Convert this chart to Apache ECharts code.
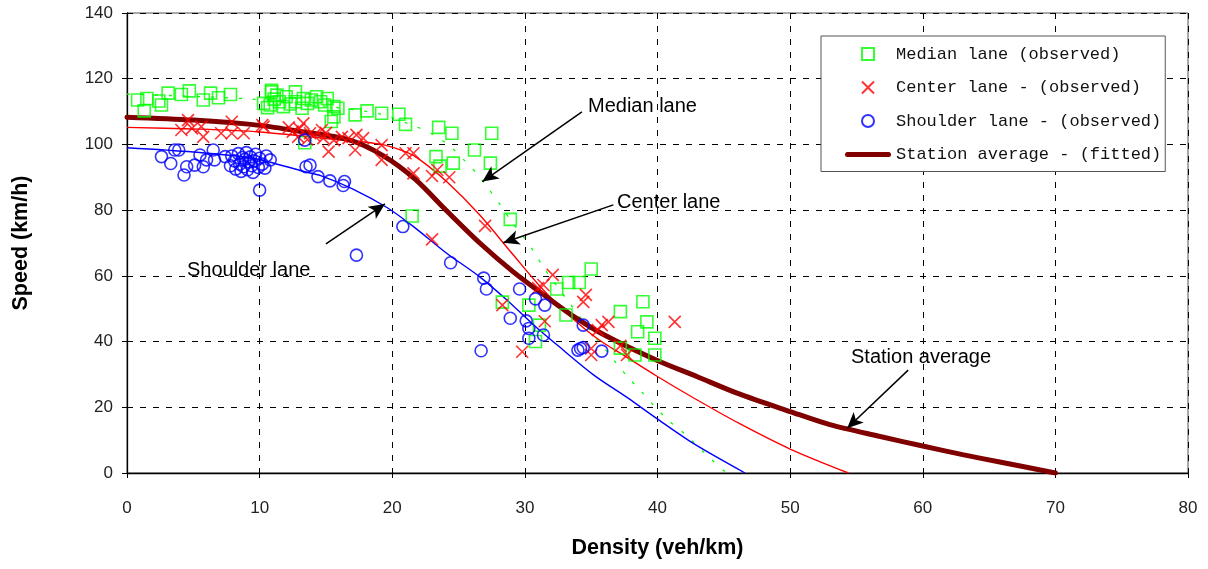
<!DOCTYPE html>
<html>
<head>
<meta charset="utf-8">
<script src="https://cdn.jsdelivr.net/npm/echarts@6/dist/echarts.min.js"></script>
<style>
  html, body { margin: 0; padding: 0; background: #ffffff; }
  #chart { width: 1208px; height: 569px; }
</style>
</head>
<body>
<div id="chart"></div>
<script>
// Observed speed (km/h) against density (veh/km), by lane
const medianObsX = [0.8, 1.3, 1.5, 2.4, 2.6, 3.1, 4.1, 4.7, 5.75, 6.3, 6.9, 7.8,
  10.3, 10.6, 10.8, 10.9, 10.9, 11.1, 11.3, 11.5, 11.8, 12.0, 12.3, 12.7, 12.7, 13.2, 13.3, 13.4, 13.6, 13.9,
  14.3, 14.6, 14.9, 15.1, 15.4, 15.6, 15.6, 15.9, 17.2, 18.1, 19.2, 20.5, 21.0,
  21.5, 23.3, 23.5, 23.6, 24.5, 24.6, 26.2, 27.4, 27.5, 28.9,
  28.3, 30.3, 30.8, 31.1, 32.4, 33.1, 33.3, 34.1, 35.0,
  37.2, 37.2, 38.3, 38.5, 38.9, 39.2, 39.8, 39.8];
const medianObsY = [113.5, 110.2, 114, 113.2, 112, 115.6, 115.2, 116.3, 113.5, 115.6, 114.2, 115.2,
  112.5, 111.2, 112, 116, 116.5, 113.8, 115, 113, 111.5, 114.5, 112.3, 116, 113, 111, 114, 100.5, 112.5, 113.5,
  114.5, 113, 112, 114, 107, 111.5, 108.4, 111, 109, 110.2, 109.5, 109.2, 106.1,
  78.2, 96.3, 105.2, 93.4, 103.4, 94.3, 98.3, 94.3, 103.4, 77.2,
  52, 51.1, 40, 45, 56, 48.1, 58, 58, 62.1,
  49.1, 38, 35.9, 43, 52.1, 46, 41, 35.9];

const centerObsX = [4.1, 4.6, 4.9, 5.6, 5.75, 7.1, 7.9, 7.9, 8.8, 10.2, 10.3,
  12.2, 12.5, 12.9, 13.0, 13.3, 13.6, 13.8, 14.1, 14.7, 14.8, 15.0, 15.2, 15.6, 16.2, 16.7, 17.2, 17.3, 17.8,
  19.2, 19.2, 21.0, 21.6, 21.6, 23.0, 23.4, 24.3, 27.0, 23.0,
  28.3, 29.8, 31.0, 31.4, 31.5, 32.1, 34.4, 34.6, 35.0, 35.0, 35.5, 35.8, 36.3, 37.2, 37.7, 41.3];
const centerObsY = [104.4, 107.4, 104.9, 105.4, 102.3, 103.4, 106.9, 103.4, 103.4, 105.9, 105.4,
  105.2, 103.9, 102.3, 104.8, 106.4, 101.5, 103.4, 102.8, 104.4, 101.9, 103.5, 97.8, 101.3, 102.3, 101.9, 98.3, 102.9, 101.9,
  99.8, 95.3, 97.3, 97.3, 91.2, 90.4, 92.2, 90.0, 75.2, 71.1,
  51.1, 36.9, 56.3, 57.2, 46.2, 60.3, 52.1, 54.2, 37.9, 35.9, 43.5, 45, 46, 38.7, 35.9, 46];

const shoulderObsX = [2.6, 3.3, 3.6, 3.9, 4.3, 4.5, 5.1, 5.5, 5.75, 6.0, 6.5, 6.6, 7.4,
  7.8, 7.9, 8.1, 8.2, 8.4, 8.5, 8.6, 8.7, 8.8, 8.9, 9.0, 9.1, 9.2, 9.3, 9.4, 9.5, 9.6, 9.7, 9.9, 10.0, 10.2, 10.4, 10.5, 10.8, 10.0,
  13.4, 13.5, 13.8, 14.4, 15.3, 16.3, 16.4, 17.3, 20.8, 24.4,
  26.7, 26.9, 27.1, 28.9, 29.6, 30.1, 30.3, 30.3, 30.8, 31.4, 31.5, 34.0, 34.2, 34.4, 34.4, 35.8];
const shoulderObsY = [96.3, 94.2, 98.3, 98.3, 90.7, 93.2, 93.7, 96.8, 93.2, 95.3, 98.3, 95.3, 96.3,
  93.5, 96.5, 95, 92.5, 97.2, 94, 91.8, 96, 93.2, 95.5, 97.5, 92.3, 94.7, 96.2, 93.5, 91.5, 95, 97, 93, 95.8, 94, 92.8, 96.5, 95.3, 86.1,
  101.3, 93.2, 93.7, 90.2, 88.9, 87.5, 88.7, 66.3, 75, 64,
  37.2, 59.3, 56, 47.1, 56, 46.3, 44, 41, 53, 42, 51.1, 37.4, 37.9, 38.2, 45, 37.1];

// Fitted speed-density curves
const medianFitX = [0, 9, 15, 19.1, 21.8, 23.1, 24.4, 25.4, 26.4, 27.3, 28.2, 29, 29.9, 30.6, 31.5, 33.3, 35, 36.8, 37.8, 38.8, 39.8, 40.8, 42, 44.1, 45.2];
const medianFitY = [115.3, 113.9, 111.6, 109.2, 105.4, 103, 99.3, 95.3, 91, 86.3, 81.3, 76.5, 71.9, 67.8, 62, 52.1, 43, 33.9, 29, 24.7, 20.2, 16.1, 12.1, 4, 0];

const centerFitX = [0, 5, 10, 15, 19.2, 21.2, 22.1, 24.1, 26.6, 29.1, 31.1, 33.2, 35.5, 37.7, 39.9, 42.7, 46.2, 50, 54.4];
const centerFitY = [105.2, 104.7, 103.8, 101.8, 100, 97.4, 95.3, 88.7, 78.5, 66.5, 57, 48.5, 40.8, 35.2, 29.6, 22.9, 15.0, 7.3, 0];

const shoulderFitX = [0, 5, 9.5, 13.4, 14.6, 17, 19.6, 21.6, 24.1, 26.6, 28.6, 30.6, 32.6, 35.2, 37.7, 39.9, 42.7, 46.6];
const shoulderFitY = [99, 97.7, 95.8, 91.7, 90.5, 86.5, 80.8, 75, 66.9, 59.7, 52.8, 45.3, 38.4, 29.8, 23.0, 16.7, 9, 0];

const stationFitX = [0, 5, 10, 13, 16.8, 19.3, 21.7, 24.1, 26.6, 29.1, 31.6, 33.7, 36, 39.9, 43, 46, 50, 53, 56.8, 60, 63, 66, 70];
const stationFitY = [108.3, 107.4, 105.8, 104, 101.3, 96.6, 89.5, 79.8, 70, 61.3, 53.7, 47.6, 42, 34.4, 29.3, 24.3, 18.7, 14.7, 11.1, 8.2, 5.6, 3.2, 0];

// Series names and callout texts
const seriesNames = ['Median lane (observed)', 'Center lane - (observed)', 'Shoulder lane - (observed)', 'Station average - (fitted)'];
const calloutTexts = ['Median lane', 'Center lane', 'Shoulder lane', 'Station average'];
const calloutTextAt = [[34.76, 111.4], [36.95, 82.2], [4.52, 61.5], [54.59, 35.3]];
const calloutFrom = [[34.3, 109.9], [36.67, 81.6], [15.0, 69.7], [58.9, 31.3]];
const calloutTo = [[26.8, 88.7], [28.37, 70.1], [19.45, 81.9], [54.3, 13.6]];

const pairs = (xs, ys) => xs.map((x, i) => [x, ys[i]]);

const chart = echarts.init(document.getElementById('chart'), null, { renderer: 'canvas' });

const tickFont = { fontFamily: 'Liberation Sans', fontSize: 17, color: '#222' };
const titleFont = { fontFamily: 'Liberation Sans', fontSize: 21.5, fontWeight: 'bold', color: '#000' };
const dashed = { show: true, lineStyle: { color: '#000', width: 1, type: [6, 7] } };
const crossPath = 'path://M0,0L10,10M10,0L0,10';

// Legend icons sized inside a 46x12 box (leading moves fix the bounds)
const squareIcon = 'path://M0,0M46,12M17,0L29,0L29,12L17,12Z';
const barIcon = 'path://M0,0M46,12M2.5,3.5L43.5,3.5A2.5,2.5 0 0 1 43.5,8.5L2.5,8.5A2.5,2.5 0 0 1 2.5,3.5Z';

const option = {
  animation: false,
  backgroundColor: '#ffffff',
  grid: { left: 127, right: 20, top: 13, bottom: 96, show: true, borderColor: '#555', borderWidth: 1, backgroundColor: 'transparent' },
  xAxis: {
    type: 'value', min: 0, max: 80, interval: 10,
    name: 'Density (veh/km)', nameLocation: 'middle', nameGap: 64, nameTextStyle: titleFont,
    axisLine: { show: true, lineStyle: { color: '#000', width: 1.3 } },
    axisTick: { show: true, inside: false, length: 5, lineStyle: { color: '#000' } },
    axisLabel: Object.assign({ margin: 27 }, tickFont),
    splitLine: dashed
  },
  yAxis: {
    type: 'value', min: 0, max: 140, interval: 20,
    name: 'Speed (km/h)', nameLocation: 'middle', nameGap: 95, nameTextStyle: titleFont,
    axisLine: { show: true, lineStyle: { color: '#000', width: 1.3 } },
    axisTick: { show: true, inside: false, length: 5, lineStyle: { color: '#000' } },
    axisLabel: Object.assign({ margin: 14 }, tickFont),
    splitLine: dashed
  },
  legend: {
    orient: 'vertical', left: 821, top: 36,
    data: [
      { name: seriesNames[0], icon: squareIcon },
      { name: seriesNames[1] },
      { name: seriesNames[2] },
      { name: seriesNames[3], icon: barIcon, itemStyle: { color: '#800000', borderWidth: 0 } }
    ],
    itemWidth: 46, itemHeight: 12, itemGap: 13.5, itemTextGap: 2,
    padding: [8, 4, 7, 23],
    borderColor: '#555', borderWidth: 1, backgroundColor: '#fff',
    selectedMode: false,
    textStyle: { fontFamily: 'Liberation Mono', fontSize: 17, color: '#111', lineHeight: 20 }
  },
  series: [
    {
      name: 'medianFit', type: 'line', data: pairs(medianFitX, medianFitY), smooth: 0.3,
      symbol: 'none', z: 2, silent: true,
      lineStyle: { color: '#00ff00', width: 1.3, type: [3, 11] }
    },
    {
      name: 'centerFit', type: 'line', data: pairs(centerFitX, centerFitY), smooth: 0.3,
      symbol: 'none', z: 2, silent: true,
      lineStyle: { color: '#ff0000', width: 1.4 }
    },
    {
      name: 'shoulderFit', type: 'line', data: pairs(shoulderFitX, shoulderFitY), smooth: 0.3,
      symbol: 'none', z: 2, silent: true,
      lineStyle: { color: '#0000ff', width: 1.4 }
    },
    {
      name: seriesNames[3], type: 'line', data: pairs(stationFitX, stationFitY), smooth: 0.3,
      symbol: 'none', z: 3, silent: true,
      itemStyle: { color: '#800000' },
      lineStyle: { color: '#800000', width: 5, cap: 'round' },
      markLine: {
        silent: true, animation: false,
        symbol: ['none', 'arrow'], symbolSize: [11, 16],
        label: { show: false },
        lineStyle: { color: '#000', width: 1.5, type: 'solid' },
        data: calloutFrom.map((p, i) => [{ coord: p }, { coord: calloutTo[i] }])
      }
    },
    {
      name: seriesNames[0], type: 'scatter', data: pairs(medianObsX, medianObsY),
      symbol: 'rect', symbolSize: 12, z: 4,
      itemStyle: { color: 'rgba(255,255,255,0)', borderColor: '#00ff00', borderWidth: 1.6 }
    },
    {
      name: seriesNames[1], type: 'scatter', data: pairs(centerObsX, centerObsY),
      symbol: crossPath, symbolSize: 12, z: 5,
      itemStyle: { color: 'rgba(255,255,255,0)', borderColor: '#ff0000', borderWidth: 1.6 }
    },
    {
      name: seriesNames[2], type: 'scatter', data: pairs(shoulderObsX, shoulderObsY),
      symbol: 'circle', symbolSize: 12, z: 6,
      itemStyle: { color: 'rgba(255,255,255,0)', borderColor: '#0000ff', borderWidth: 1.6 }
    }
  ]
};

chart.setOption(option);

// Callout texts placed at data positions
const callouts = calloutTexts.map((t, i) => {
  const p = chart.convertToPixel({ gridIndex: 0 }, calloutTextAt[i]);
  return {
    type: 'text', x: p[0], y: p[1], z: 20,
    style: { text: t, fill: '#000', font: '20px "Liberation Sans"', textAlign: 'left', textVerticalAlign: 'middle' }
  };
});
chart.setOption({ graphic: callouts });
</script>
</body>
</html>
